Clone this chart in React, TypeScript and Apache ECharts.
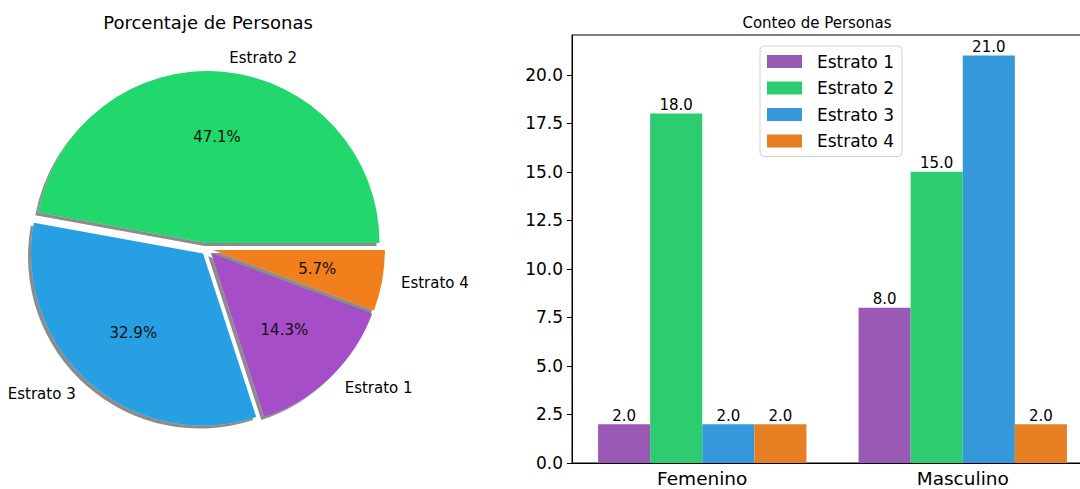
import React, { useEffect, useRef } from "react";
import * as echarts from "echarts";

const strata = ["Estrato 1", "Estrato 2", "Estrato 3", "Estrato 4"];
const genders = ["Femenino", "Masculino"];
const femenino = [2, 18, 2, 2];
const masculino = [8, 15, 21, 2];
const barColors = ["#9b59b6", "#2ecc71", "#3498db", "#e67e22"];
const pieColors = ["#a64dc8", "#22d86c", "#28a0e2", "#f07f1c"];
// pie order (counter-clockwise from 0°): Estrato 2, Estrato 3, Estrato 1, Estrato 4
const pieOrder = [1, 2, 0, 3];
const yTicks = [0, 2.5, 5, 7.5, 10, 12.5, 15, 17.5, 20];

const FONT = "DejaVu Sans";

export default function App() {
  const ref = useRef<HTMLDivElement>(null);
  useEffect(() => {
    const chart = echarts.init(ref.current!, null, { renderer: "svg" });
    const totals = strata.map((_, i) => femenino[i] + masculino[i]);
    const pieData = pieOrder.map((i) => ({
      name: strata[i],
      value: totals[i],
      selected: true,
      itemStyle: { color: pieColors[i] },
    }));
    const yMax = Math.max(...femenino, ...masculino) * 1.05;
    const option: any = {
      animation: false,
      backgroundColor: "#ffffff",
      textStyle: { fontFamily: FONT },
      title: [
        {
          text: "Porcentaje de Personas",
          left: 208,
          top: 13,
          textAlign: "center",
          padding: 0,
          textStyle: { fontFamily: FONT, fontSize: 18, fontWeight: "normal", color: "#000" },
        },
        {
          text: "Conteo de Personas",
          left: 817,
          top: 15,
          textAlign: "center",
          padding: 0,
          textStyle: { fontFamily: FONT, fontSize: 15, fontWeight: "normal", color: "#000" },
        },
      ],
      legend: {
        orient: "vertical",
        left: 760,
        top: 46,
        padding: [7, 8, 7, 7],
        itemWidth: 35,
        itemHeight: 13,
        itemGap: 9.5,
        backgroundColor: "#fff",
        borderColor: "#d0d0d0",
        borderWidth: 1,
        borderRadius: 4,
        icon: "rect",
        data: strata,
        textStyle: { fontFamily: FONT, fontSize: 17, color: "#000", padding: [0, 0, 0, 10] },
      },
      grid: {
        left: 572,
        width: 521,
        top: 35,
        bottom: 26,
        outerBoundsMode: "none",
        containLabel: false,
        show: true,
        borderColor: "#000",
        borderWidth: 1,
      },
      xAxis: {
        type: "category",
        data: genders,
        axisLine: { lineStyle: { color: "#000", width: 1 } },
        axisTick: { alignWithLabel: true, length: 5, lineStyle: { color: "#000" } },
        axisLabel: { fontFamily: FONT, fontSize: 18.5, color: "#000", margin: 6 },
      },
      yAxis: {
        type: "value",
        min: 0,
        max: yMax,
        interval: 2.5,
        splitLine: { show: false },
        axisLine: { show: true, lineStyle: { color: "#000", width: 1 } },
        axisTick: { show: true, length: 5, lineStyle: { color: "#000" }, customValues: yTicks },
        axisLabel: {
          fontFamily: FONT,
          fontSize: 17,
          color: "#000",
          margin: 9,
          customValues: yTicks,
          formatter: (v: number) => v.toFixed(1),
        },
      },
      series: [
        {
          type: "pie",
          center: [207, 249],
          radius: 172,
          startAngle: 0,
          clockwise: false,
          selectedMode: "multiple",
          selectedOffset: 6,
          avoidLabelOverlap: false,
          emphasis: { disabled: true },
          itemStyle: {
            shadowColor: "rgba(0,0,0,0.45)",
            shadowOffsetX: -3,
            shadowOffsetY: 3,
            shadowBlur: 0,
          },
          label: {
            show: true,
            position: "outside",
            formatter: "{b}",
            fontFamily: FONT,
            fontSize: 15,
            color: "#000",
            distanceToLabelLine: 5,
          },
          labelLine: { show: false, length: 14, length2: 0 },
          data: pieData,
        },
        {
          type: "pie",
          center: [207, 249],
          radius: 206,
          startAngle: 0,
          clockwise: false,
          silent: true,
          selectedMode: "multiple",
          selectedOffset: 6,
          percentPrecision: 1,
          avoidLabelOverlap: false,
          emphasis: { disabled: true },
          itemStyle: { color: "rgba(0,0,0,0)" },
          label: {
            show: true,
            position: "inside",
            formatter: (p: any) => p.percent.toFixed(1) + "%",
            fontFamily: FONT,
            fontSize: 15,
            color: "#111",
          },
          labelLine: { show: false },
          data: pieData.map((d) => ({ name: d.name, value: d.value, selected: true })),
        },
        ...strata.map((s, i) => ({
          type: "bar",
          name: s,
          data: [femenino[i], masculino[i]],
          barGap: "0%",
          barCategoryGap: "20%",
          itemStyle: { color: barColors[i] },
          emphasis: { disabled: true },
          label: {
            show: true,
            position: "top",
            distance: 1,
            fontFamily: FONT,
            fontSize: 15,
            color: "#000",
            formatter: (p: any) => Number(p.value).toFixed(1),
          },
        })),
      ],
    };
    chart.setOption(option);
    return () => chart.dispose();
  }, []);
  return (
    <div
      ref={ref}
      style={{ position: "absolute", left: 0, top: 0, width: 1080, height: 489, background: "#fff" }}
    />
  );
}
